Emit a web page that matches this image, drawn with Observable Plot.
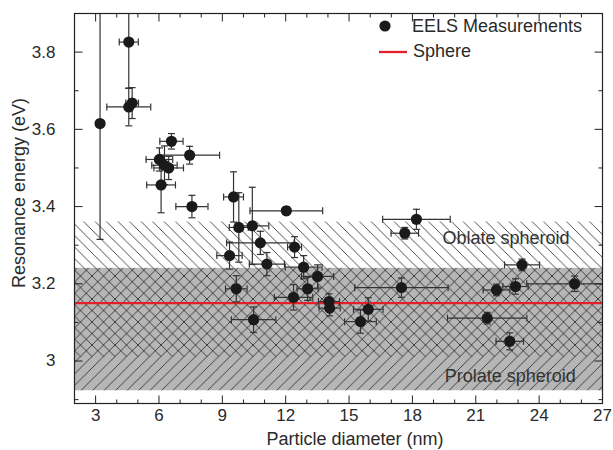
<!DOCTYPE html>
<html><head><meta charset="utf-8">
<script src="https://cdn.jsdelivr.net/npm/d3@7"></script>
<script src="https://cdn.jsdelivr.net/npm/@observablehq/plot@0.6"></script>
<style>
body{margin:0;background:#fff;}
svg{font-family:"Liberation Sans",Arial,sans-serif;}
</style>
</head><body><div id="chart"></div>
<script>
// EELS measurements
const diameter    = [3.21, 4.57, 4.57, 4.73, 6.59, 7.45, 6.02, 6.26, 6.46, 6.10, 7.56, 9.53, 12.03, 9.78, 10.42, 10.80, 12.42, 9.34, 11.11, 12.85, 13.51, 13.04, 12.37, 9.66, 10.48, 14.05, 14.08, 15.91, 15.54, 18.19, 17.64, 23.19, 17.48, 21.98, 22.88, 25.68, 21.54, 22.61];
const diameterErr = [0, 0.45, 1.04, 0.30, 0.55, 1.42, 0.63, 0.60, 0.70, 0.68, 0.76, 0.47, 1.72, 0.45, 0.78, 1.60, 0.33, 0.60, 0.83, 0.87, 0.76, 0.50, 0.91, 0.51, 1.05, 0.50, 0.50, 0.70, 0.75, 1.60, 0.65, 0.83, 2.21, 0.63, 0.60, 2.27, 1.88, 0.65];
const energy      = [3.615, 3.826, 3.658, 3.668, 3.569, 3.533, 3.522, 3.507, 3.500, 3.456, 3.400, 3.425, 3.389, 3.346, 3.350, 3.306, 3.295, 3.273, 3.251, 3.243, 3.219, 3.187, 3.165, 3.187, 3.107, 3.154, 3.137, 3.134, 3.102, 3.367, 3.331, 3.249, 3.190, 3.184, 3.193, 3.200, 3.111, 3.051];
const energyErr   = [0.30, 0.12, 0.049, 0.04, 0.02, 0.023, 0.03, 0.05, 0.03, 0.072, 0.029, 0.065, 0.01, 0.09, 0.10, 0.03, 0.027, 0.035, 0.03, 0.03, 0.03, 0.03, 0.033, 0.034, 0.033, 0.02, 0.02, 0.03, 0.03, 0.026, 0.015, 0.015, 0.025, 0.015, 0.02, 0.02, 0.015, 0.022];

// Sphere model
const sphereEnergy = [3.15];

// Spheroid bands
const bandName = ["Oblate spheroid", "Prolate spheroid"];
const bandLow  = [3.01, 2.923];
const bandHigh = [3.36, 3.24];

// Axes
const xDomain = [2, 27];
const yDomain = [2.89, 3.9];
const xMajor = [3, 6, 9, 12, 15, 18, 21, 24, 27];
const xMinor = [2, 4, 5, 7, 8, 10, 11, 13, 14, 16, 17, 19, 20, 22, 23, 25, 26];
const yMajor = [3.0, 3.2, 3.4, 3.6, 3.8];
const yMinor = [2.9, 3.1, 3.3, 3.5, 3.7];

const pts = diameter.map((x, i) => ({x, xe: diameterErr[i], y: energy[i], ye: energyErr[i]}));
const bands = bandName.map((name, i) => ({name, lo: bandLow[i], hi: bandHigh[i]}));

const seg = (x0, y0, x1, y1) => ({draw(c){ c.moveTo(x0, y0); c.lineTo(x1, y1); }});
const capH = seg(-3.5, 0, 3.5, 0);
const capV = seg(0, -3.5, 0, 3.5);
const MAJ = 8, MIN = 4;

const ink = "#222";
const tickMarks = (vals, len) => [
  Plot.dot(vals, {x: d => d, y: yDomain[0], symbol: seg(0, 0, 0, -len), stroke: ink, strokeWidth: 1, fill: "none"}),
  Plot.dot(vals, {x: d => d, y: yDomain[1], symbol: seg(0, 0, 0, len), stroke: ink, strokeWidth: 1, fill: "none"})
];
const tickMarksY = (vals, len) => [
  Plot.dot(vals, {y: d => d, x: xDomain[0], symbol: seg(0, 0, len, 0), stroke: ink, strokeWidth: 1, fill: "none"}),
  Plot.dot(vals, {y: d => d, x: xDomain[1], symbol: seg(0, 0, -len, 0), stroke: ink, strokeWidth: 1, fill: "none"})
];

const svg = Plot.plot({
  width: 613,
  height: 450,
  marginLeft: 74,
  marginRight: 11,
  marginTop: 13,
  marginBottom: 47,
  style: {fontFamily: "Liberation Sans, Arial, sans-serif", background: "#fff"},
  x: {domain: xDomain},
  y: {domain: yDomain},
  marks: [
    Plot.rect(bands.slice(1), {x1: xDomain[0], x2: xDomain[1], y1: "lo", y2: "hi", fill: "#b6b6b6"}),
    Plot.rect(bands.slice(0, 1), {x1: xDomain[0], x2: xDomain[1], y1: "lo", y2: "hi", fill: "url(#hatchBack)"}),
    Plot.rect(bands.slice(1), {x1: xDomain[0], x2: xDomain[1], y1: "lo", y2: "hi", fill: "url(#hatchFwd)"}),
    Plot.text(bands.slice(0, 1), {x: 19.42, y: 3.318, text: "name", textAnchor: "start", fontSize: 18, fill: "#333"}),
    Plot.text(bands.slice(1), {x: 19.53, y: 2.96, text: "name", textAnchor: "start", fontSize: 18, fill: "#333"}),
    Plot.ruleY(sphereEnergy, {x1: xDomain[0], x2: xDomain[1], stroke: "#e3202a", strokeWidth: 2.3}),
    Plot.ruleX(pts, {x: "x", y1: d => d.y - d.ye, y2: d => d.y + d.ye, stroke: "#333", strokeWidth: 1.2, clip: true}),
    Plot.ruleY(pts.filter(d => d.xe > 0), {y: "y", x1: d => d.x - d.xe, x2: d => d.x + d.xe, stroke: "#333", strokeWidth: 1.2, clip: true}),
    Plot.dot(pts, {x: "x", y: d => d.y + d.ye, symbol: capH, stroke: "#333", strokeWidth: 1.2, fill: "none", clip: true}),
    Plot.dot(pts, {x: "x", y: d => d.y - d.ye, symbol: capH, stroke: "#333", strokeWidth: 1.2, fill: "none", clip: true}),
    Plot.dot(pts.filter(d => d.xe > 0), {x: d => d.x + d.xe, y: "y", symbol: capV, stroke: "#333", strokeWidth: 1.2, fill: "none", clip: true}),
    Plot.dot(pts.filter(d => d.xe > 0), {x: d => d.x - d.xe, y: "y", symbol: capV, stroke: "#333", strokeWidth: 1.2, fill: "none", clip: true}),
    Plot.dot(pts, {x: "x", y: "y", r: 5.6, fill: "#1a1a1a", stroke: "none"}),
    ...tickMarks(xMajor, MAJ), ...tickMarks(xMinor, MIN),
    ...tickMarksY(yMajor, MAJ), ...tickMarksY(yMinor, MIN),
    Plot.frame({stroke: ink, strokeWidth: 1.2}),
    Plot.axisX({ticks: xMajor, tickSize: 0, tickPadding: 5, fontSize: 17, label: null, tickFormat: d => String(d), fill: "#2a2a2a"}),
    Plot.axisY({ticks: yMajor, tickSize: 0, tickPadding: 19, fontSize: 17, label: null, tickFormat: d3.format("~g"), fill: "#2a2a2a"})
  ]
});

const s = d3.select(svg);
const defs = s.insert("defs", ":first-child");
const P = 11.5;
defs.append("pattern").attr("id", "hatchBack").attr("patternUnits", "userSpaceOnUse")
  .attr("width", P).attr("height", P)
  .append("path").attr("d", `M0,0L${P},${P}M-3,${P-3}L3,${P+3}M${P-3},-3L${P+3},3`)
  .attr("stroke", "#222").attr("stroke-width", 0.8).attr("fill", "none");
defs.append("pattern").attr("id", "hatchFwd").attr("patternUnits", "userSpaceOnUse")
  .attr("width", P).attr("height", P)
  .append("path").attr("d", `M0,${P}L${P},0M-3,3L3,-3M${P-3},${P+3}L${P+3},${P-3}`)
  .attr("stroke", "#222").attr("stroke-width", 0.8).attr("fill", "none");

// Axis titles
s.append("text").attr("x", 355).attr("y", 440).attr("text-anchor", "middle").attr("dominant-baseline", "middle")
  .attr("font-size", 18).attr("fill", "#2a2a2a").text("Particle diameter (nm)");
s.append("text").attr("transform", "translate(20,193) rotate(-90)").attr("text-anchor", "middle").attr("dominant-baseline", "middle")
  .attr("font-size", 18).attr("fill", "#2a2a2a").text("Resonance energy (eV)");

// Legend
const lg = s.append("g").attr("text-anchor", "start");
lg.append("circle").attr("cx", 385).attr("cy", 26).attr("r", 5.6).attr("fill", "#1a1a1a");
lg.append("text").attr("x", 412).attr("y", 27).attr("text-anchor", "start").attr("dominant-baseline", "middle").attr("font-size", 18).attr("fill", "#2a2a2a").text("EELS Measurements");
lg.append("line").attr("x1", 379).attr("x2", 407).attr("y1", 52).attr("y2", 52).attr("stroke", "#e3202a").attr("stroke-width", 2.3);
lg.append("text").attr("x", 413).attr("y", 52).attr("text-anchor", "start").attr("dominant-baseline", "middle").attr("font-size", 18).attr("fill", "#2a2a2a").text("Sphere");

document.getElementById("chart").appendChild(svg);
</script>
</body></html>
